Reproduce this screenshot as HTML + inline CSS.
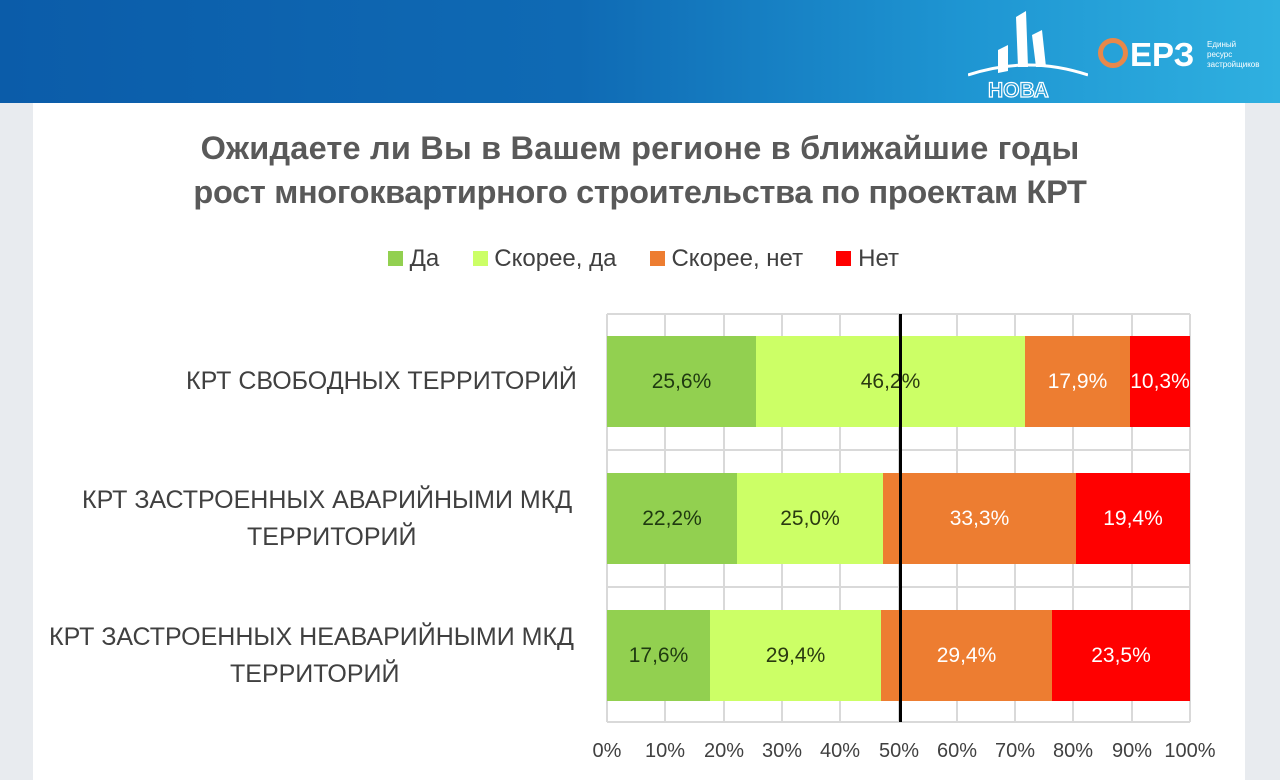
<!DOCTYPE html>
<html><head><meta charset="utf-8"><style>
body{margin:0;width:1280px;height:780px;position:relative;overflow:hidden;background:#e8ebef;font-family:"Liberation Sans","DejaVu Sans",sans-serif}
.hdr{position:absolute;left:0;top:0;width:1280px;height:103px;background:linear-gradient(90deg,#0b5ca9 0%,#0f6ab4 45%,#1e95d2 75%,#2fb0e0 100%)}
.card{position:absolute;left:33px;top:103px;width:1212px;height:677px;background:#fff}
.t{position:absolute;left:0;width:1280px;text-align:center;font-weight:bold;font-size:32.5px;color:#595959}
.abs{position:absolute}
.lab{position:absolute;font-size:25px;color:#404040;white-space:nowrap;line-height:39px}
.seg{position:absolute;height:91px;display:flex;align-items:center;justify-content:center;font-size:21px}
.tick{position:absolute;top:740px;font-size:20px;color:#404040;width:60px;text-align:center;margin-left:-30px}
</style></head><body>
<div class="hdr"></div>
<div class="abs" style="left:968px;top:5px;width:120px;height:95px">
<svg width="120" height="95"><path d="M0 70 Q60 50 120 70" stroke="#fff" stroke-width="3" fill="none"/>
<polygon points="30,45 40,40 40,66 30,68" fill="#fff"/><polygon points="48,12 58,6 60,62 50,62" fill="#fff"/><polygon points="64,30 74,25 78,62 68,62" fill="#fff"/>
<text x="20" y="92" font-family="Liberation Sans" font-size="21" fill="none" stroke="#fff" stroke-width="1.2" font-weight="bold">НОВА</text></svg></div>
<div class="abs" style="left:1098px;top:38px;width:30px;height:30px;border-radius:50%;border:5px solid #e8884a;box-sizing:border-box"></div>
<div class="abs" style="left:1130px;top:36px;font-size:33px;font-weight:bold;color:#fff">ЕРЗ</div>
<div class="abs" style="left:1207px;top:40px;font-size:8px;line-height:10px;color:#fff">Единый<br>ресурс<br>застройщиков</div>
<div class="card"></div>
<div class="t" style="top:130px;letter-spacing:0.2px">Ожидаете ли Вы в Вашем регионе в ближайшие годы</div>
<div class="t" style="top:174px;letter-spacing:-0.3px">рост многоквартирного строительства по проектам КРТ</div>
<div class="abs" style="top:245px;left:388px;font-size:24px;color:#404040;white-space:nowrap">
<span style="display:inline-block;width:15px;height:15px;background:#92d050"></span> Да &nbsp;&nbsp;&nbsp;
<span style="display:inline-block;width:15px;height:15px;background:#ccff66"></span> Скорее, да &nbsp;&nbsp;&nbsp;
<span style="display:inline-block;width:15px;height:15px;background:#ed7d31"></span> Скорее, нет &nbsp;&nbsp;&nbsp;
<span style="display:inline-block;width:15px;height:15px;background:#ff0000"></span> Нет</div>
<svg class="abs" style="left:0;top:0" width="1280" height="780">
<g stroke="#d9d9d9" stroke-width="2">
<line x1="607" y1="314" x2="1190" y2="314"/><line x1="607" y1="450" x2="1190" y2="450"/><line x1="607" y1="587" x2="1190" y2="587"/><line x1="607" y1="722" x2="1190" y2="722"/>
<line x1="607" y1="314" x2="607" y2="722"/><line x1="665" y1="314" x2="665" y2="722"/><line x1="724" y1="314" x2="724" y2="722"/><line x1="782" y1="314" x2="782" y2="722"/><line x1="840" y1="314" x2="840" y2="722"/><line x1="899" y1="314" x2="899" y2="722"/><line x1="957" y1="314" x2="957" y2="722"/><line x1="1015" y1="314" x2="1015" y2="722"/><line x1="1073" y1="314" x2="1073" y2="722"/><line x1="1132" y1="314" x2="1132" y2="722"/><line x1="1190" y1="314" x2="1190" y2="722"/>
</g></svg>
<div class="seg" style="top:336px;left:607px;width:149px;background:#92d050;color:#1f3a10">25,6%</div>
<div class="seg" style="top:336px;left:756px;width:269px;background:#ccff66;color:#2a3a10">46,2%</div>
<div class="seg" style="top:336px;left:1025px;width:105px;background:#ed7d31;color:#fff">17,9%</div>
<div class="seg" style="top:336px;left:1130px;width:60px;background:#ff0000;color:#fff">10,3%</div>
<div class="seg" style="top:473px;left:607px;width:130px;background:#92d050;color:#1f3a10">22,2%</div>
<div class="seg" style="top:473px;left:737px;width:146px;background:#ccff66;color:#2a3a10">25,0%</div>
<div class="seg" style="top:473px;left:883px;width:193px;background:#ed7d31;color:#fff">33,3%</div>
<div class="seg" style="top:473px;left:1076px;width:114px;background:#ff0000;color:#fff">19,4%</div>
<div class="seg" style="top:610px;left:607px;width:103px;background:#92d050;color:#1f3a10">17,6%</div>
<div class="seg" style="top:610px;left:710px;width:171px;background:#ccff66;color:#2a3a10">29,4%</div>
<div class="seg" style="top:610px;left:881px;width:171px;background:#ed7d31;color:#fff">29,4%</div>
<div class="seg" style="top:610px;left:1052px;width:138px;background:#ff0000;color:#fff">23,5%</div>
<div class="abs" style="left:899px;top:314px;width:3px;height:408px;background:#000"></div>
<div class="lab" style="left:186px;top:362px">КРТ СВОБОДНЫХ ТЕРРИТОРИЙ</div>
<div class="lab" style="left:82px;top:481px">КРТ ЗАСТРОЕННЫХ АВАРИЙНЫМИ МКД</div>
<div class="lab" style="left:247px;top:518px">ТЕРРИТОРИЙ</div>
<div class="lab" style="left:49px;top:618px">КРТ ЗАСТРОЕННЫХ НЕАВАРИЙНЫМИ МКД</div>
<div class="lab" style="left:230px;top:655px">ТЕРРИТОРИЙ</div>
<div class="tick" style="left:607px">0%</div><div class="tick" style="left:665px">10%</div><div class="tick" style="left:724px">20%</div><div class="tick" style="left:782px">30%</div><div class="tick" style="left:840px">40%</div><div class="tick" style="left:899px">50%</div><div class="tick" style="left:957px">60%</div><div class="tick" style="left:1015px">70%</div><div class="tick" style="left:1073px">80%</div><div class="tick" style="left:1132px">90%</div><div class="tick" style="left:1190px">100%</div>
</body></html>
